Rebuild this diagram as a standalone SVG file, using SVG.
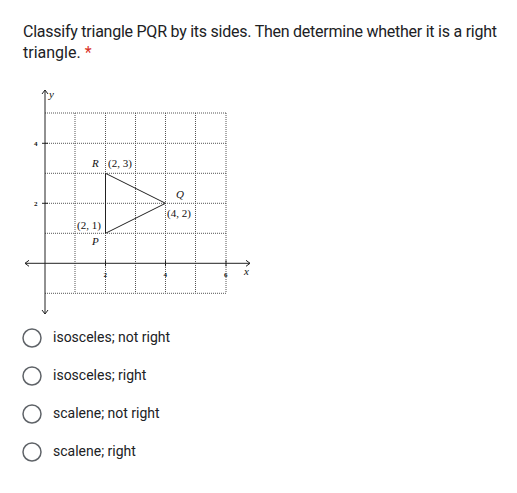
<svg xmlns="http://www.w3.org/2000/svg" width="517" height="493" viewBox="0 0 517 493">
<style>
.q{font-family:Roboto,"Open Sans",sans-serif;font-size:16px;fill:#202124}
.o{font-family:Roboto,"Open Sans",sans-serif;font-size:14px;fill:#202124}
.g{stroke:#555;stroke-width:1;stroke-dasharray:1,1;fill:none}
.ax{stroke:#222;stroke-width:1;fill:none}
.s{font-family:"Liberation Serif",serif;font-size:11px;fill:#111}
.si{font-family:"Liberation Serif",serif;font-size:11px;font-style:italic;fill:#111}
.t{font-family:"Liberation Serif",serif;font-size:7px;font-weight:bold;fill:#111}
.r{fill:#fff;stroke:#5f6368;stroke-width:1.5}
</style>
<rect width="517" height="493" fill="#fff"/>
<text class="q" x="23" y="37" textLength="474">Classify triangle PQR by its sides. Then determine whether it is a right</text>
<text class="q" x="23" y="58">triangle. <tspan fill="#d93025">*</tspan></text>

<g id="grid">
<path class="g" d="M75 113V293M105.5 113V293M135.5 113V293M165.5 113V293M195.5 113V293M226 113V293M45 113H226M45 143.3H226M45 173.3H226M45 203.3H226M45 233.3H226M45 293.3H226"/>
</g>
<g id="axes">
<path class="ax" d="M25 263.3H250M45 90V314"/>
<path class="ax" d="M29 260.3L25 263.3L29 266.3M246 260.3L250 263.3L246 266.3M42 94L45 90L48 94M42 310L45 314L48 310"/>
<path class="ax" d="M42 143.3H48M42 203.3H48M105.5 260.3V266.3M165.5 260.3V266.3M226 260.3V266.3"/>
<text class="si" x="49" y="98" font-size="8">y</text>
<text class="si" x="244" y="275" font-size="8">x</text>
<text class="t" x="34" y="146">4</text>
<text class="t" x="34" y="206">2</text>
<text class="t" x="103.5" y="277">2</text>
<text class="t" x="163.5" y="277">4</text>
<text class="t" x="224" y="277">6</text>
</g>
<g id="connectors">
<path d="M105.5 173.3L165.5 203.3L105.5 233.3Z" fill="none" stroke="#222" stroke-width="1"/>
</g>
<g id="R"><text class="si" x="92" y="167">R</text><text class="s" x="108" y="167">(2, 3)</text></g>
<g id="Q"><text class="si" x="176" y="198">Q</text><text class="s" x="167" y="217">(4, 2)</text></g>
<g id="P"><text class="s" x="77" y="229">(2, 1)</text><text class="si" x="92" y="245">P</text></g>

<g id="opt1"><circle class="r" cx="32" cy="338" r="9"/><text class="o" x="53" y="342">isosceles; not right</text></g>
<g id="opt2"><circle class="r" cx="32" cy="376" r="9"/><text class="o" x="53" y="380">isosceles; right</text></g>
<g id="opt3"><circle class="r" cx="32" cy="414" r="9"/><text class="o" x="53" y="418">scalene; not right</text></g>
<g id="opt4"><circle class="r" cx="32" cy="452" r="9"/><text class="o" x="53" y="456">scalene; right</text></g>
</svg>
